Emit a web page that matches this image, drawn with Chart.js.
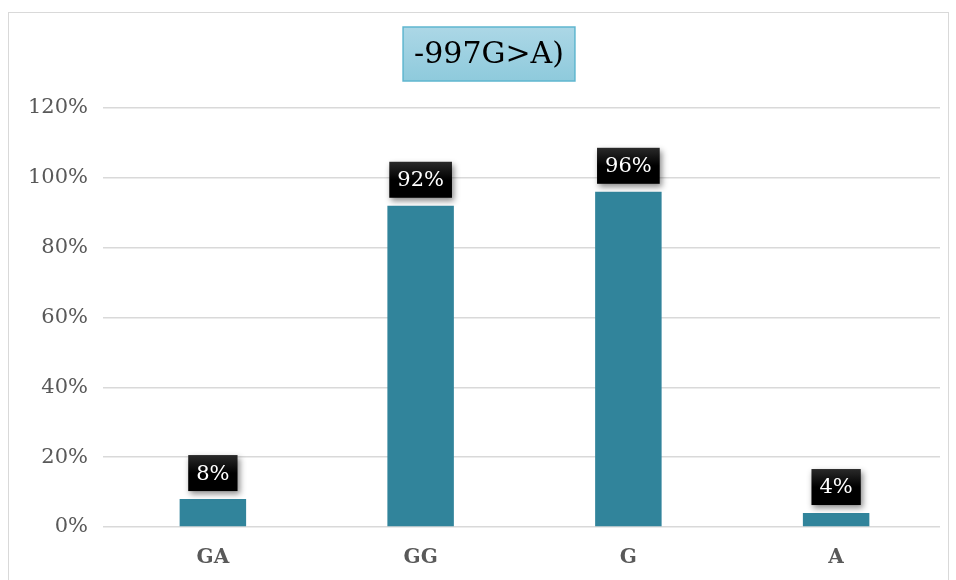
<!DOCTYPE html>
<html>
<head>
<meta charset="utf-8">
<script src="https://cdn.jsdelivr.net/npm/chart.js@4"></script>
<style>
  html, body { margin: 0; padding: 0; background: #fff; }
  #wrap { width: 956px; height: 580px; position: relative; }
</style>
</head>
<body>
<div id="wrap"><canvas id="genoChart"></canvas></div>
<script>
const chartTitle = '-997G>A)';
const categories = ['GA', 'GG', 'G', 'A'];
const frequencies = [0.08, 0.92, 0.96, 0.04];
const valueLabels = ['8%', '92%', '96%', '4%'];
const yTicks = [0, 0.2, 0.4, 0.6, 0.8, 1.0, 1.2];

const serif = '"DejaVu Serif", serif';

// frame + title box
const framePlugin = {
    id: 'frame',
    beforeDraw(chart) {
        const ctx = chart.ctx;
        ctx.save();
        ctx.strokeStyle = '#d9d9d9';
        ctx.lineWidth = 1;
        ctx.strokeRect(8.5, 12.5, 940, 620);
        ctx.restore();
    },
    afterDraw(chart) {
        const ctx = chart.ctx;
        ctx.save();
        ctx.font = '30px ' + serif;
        const w = ctx.measureText(chartTitle).width + 22;
        const cx = 489, top = 27, h = 54;
        const g = ctx.createLinearGradient(0, top, 0, top + h);
        g.addColorStop(0, '#acd7e6');
        g.addColorStop(1, '#8ecadc');
        ctx.fillStyle = g;
        ctx.fillRect(cx - w / 2, top, w, h);
        ctx.strokeStyle = '#5fb6cf';
        ctx.lineWidth = 1.5;
        ctx.strokeRect(cx - w / 2, top, w, h);
        ctx.fillStyle = '#000';
        ctx.textAlign = 'center';
        ctx.textBaseline = 'middle';
        ctx.fillText(chartTitle, cx, top + h / 2 + 1);
        ctx.restore();
    }
};

// black value boxes above bars
const valueBoxPlugin = {
    id: 'valueBoxes',
    afterDatasetsDraw(chart) {
        const ctx = chart.ctx;
        const meta = chart.getDatasetMeta(0);
        ctx.save();
        ctx.font = '21px ' + serif;
        meta.data.forEach((bar, i) => {
            const txt = valueLabels[i];
            const w = ctx.measureText(txt).width + 16;
            const h = 36;
            const x = bar.x - w / 2;
            const y = bar.y - 8 - h;
            ctx.save();
            ctx.shadowColor = 'rgba(0,0,0,0.45)';
            ctx.shadowBlur = 6;
            ctx.shadowOffsetX = 2;
            ctx.shadowOffsetY = 3;
            const g = ctx.createLinearGradient(0, y, 0, y + h);
            g.addColorStop(0, '#2a2a2a');
            g.addColorStop(0.5, '#000');
            g.addColorStop(1, '#000');
            ctx.fillStyle = g;
            ctx.fillRect(x, y, w, h);
            ctx.restore();
            ctx.fillStyle = '#fff';
            ctx.textAlign = 'center';
            ctx.textBaseline = 'middle';
            ctx.fillText(txt, bar.x, y + h / 2 + 1);
        });
        ctx.restore();
    }
};

const ctx = document.getElementById('genoChart').getContext('2d');
const myChart = new Chart(ctx, {
    type: 'bar',
    data: {
        labels: categories,
        datasets: [{
            data: frequencies,
            backgroundColor: '#31849b',
            categoryPercentage: 1,
            barPercentage: 0.32
        }]
    },
    options: {
        responsive: true,
        maintainAspectRatio: false,
        animation: false,
        layout: { padding: { top: 108, right: 16, left: 0, bottom: 0 } },
        plugins: {
            legend: { display: false },
            title: { display: false },
            tooltip: { enabled: false }
        },
        scales: {
            y: {
                min: 0,
                max: 1.2,
                afterBuildTicks: s => { s.ticks = yTicks.map(v => ({ value: v })); },
                afterFit: s => { s.width = 109; },
                ticks: {
                    padding: 15,
                    color: '#595959',
                    font: { family: serif, size: 21 },
                    callback: v => Math.round(v * 100) + '%'
                },
                grid: { color: '#d9d9d9', lineWidth: 1.5, tickLength: 6 },
                border: { display: false }
            },
            x: {
                afterFit: s => { s.height = 53; },
                ticks: {
                    padding: 19,
                    color: '#595959',
                    font: { family: serif, size: 20, weight: 'bold' }
                },
                grid: { display: false, drawTicks: false },
                border: { display: false }
            }
        }
    },
    plugins: [framePlugin, valueBoxPlugin]
});
</script>
</body>
</html>
